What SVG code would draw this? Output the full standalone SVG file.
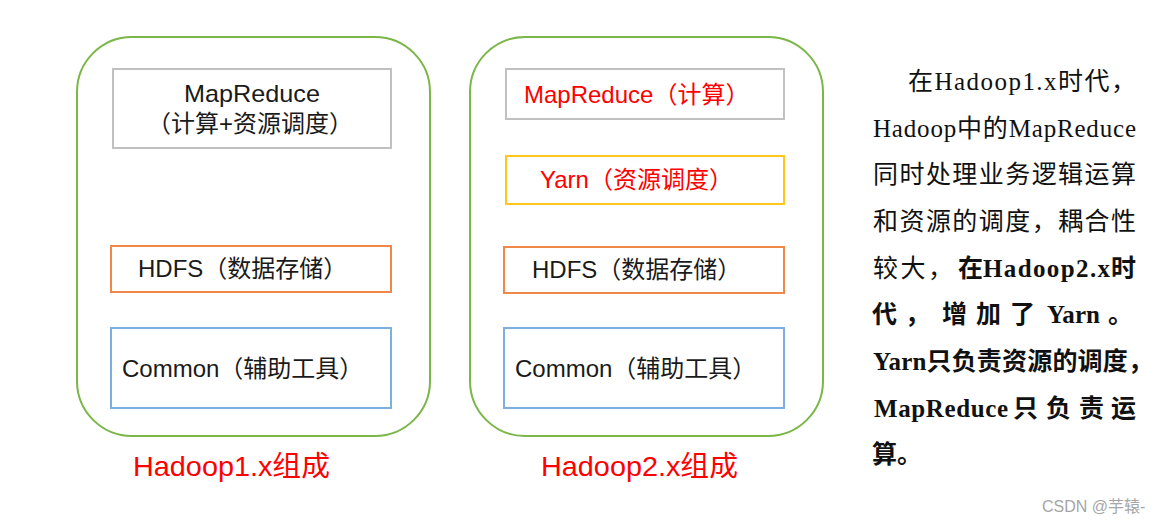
<svg xmlns="http://www.w3.org/2000/svg" width="1171" height="527" viewBox="0 0 1171 527">
<style>
.cont{fill:#fff;stroke:#7ab648;stroke-width:2}
.box{fill:#fff;stroke-width:2}
.gray{stroke:#c0c0c0}
.orange{stroke:#f0884a}
.yellow{stroke:#ffc61a}
.blue{stroke:#7eaee0}
.lbl{font-family:"Liberation Sans","Noto Sans CJK SC",sans-serif;font-size:24px;fill:#1a1a1a}
.red{fill:#ff0000}
.cap{font-family:"Liberation Sans","Noto Sans CJK SC",sans-serif;font-size:28px;fill:#ff0000}
.para{font-family:"Liberation Serif","Noto Sans CJK SC",serif;font-size:25px;fill:#111}
.b{font-weight:bold}
.wm{font-family:"Liberation Sans","Noto Sans CJK SC",sans-serif;font-size:16px;fill:#a6a6a6}
</style>
<rect width="1171" height="527" fill="#fff"/>
<g id="hadoop1">
<rect class="cont" x="77" y="37" width="353" height="399" rx="55"/>
<g id="h1-mapreduce"><rect class="box gray" x="113" y="69" width="278" height="79"/>
<text class="lbl" x="252" y="102" text-anchor="middle" textLength="136" lengthAdjust="spacingAndGlyphs">MapReduce</text>
<text class="lbl" x="250" y="132" text-anchor="middle">（计算+资源调度）</text></g>
<g id="h1-hdfs"><rect class="box orange" x="111" y="246" width="280" height="46"/>
<text class="lbl" x="138" y="277">HDFS（数据存储）</text></g>
<g id="h1-common"><rect class="box blue" x="111" y="328" width="280" height="80"/>
<text class="lbl" x="122" y="377">Common（辅助工具）</text></g>
<text class="cap" x="133" y="476" textLength="197" lengthAdjust="spacingAndGlyphs">Hadoop1.x组成</text>
</g>
<g id="hadoop2">
<rect class="cont" x="470" y="37" width="353" height="399" rx="55"/>
<g id="h2-mapreduce"><rect class="box gray" x="506" y="69" width="278" height="50"/>
<text class="lbl red" x="524" y="103">MapReduce（计算）</text></g>
<g id="h2-yarn"><rect class="box yellow" x="506" y="156" width="278" height="48"/>
<text class="lbl red" x="540" y="188">Yarn（资源调度）</text></g>
<g id="h2-hdfs"><rect class="box orange" x="504" y="247" width="280" height="46"/>
<text class="lbl" x="532" y="278">HDFS（数据存储）</text></g>
<g id="h2-common"><rect class="box blue" x="504" y="328" width="280" height="80"/>
<text class="lbl" x="515" y="377">Common（辅助工具）</text></g>
<text class="cap" x="541" y="476" textLength="197" lengthAdjust="spacingAndGlyphs">Hadoop2.x组成</text>
</g>
<g id="connectors"></g>
<g id="description">
<text class="para" x="908" y="90" textLength="228" lengthAdjust="spacing">在Hadoop1.x时代，</text>
<text class="para" x="873" y="137" textLength="263" lengthAdjust="spacing">Hadoop中的MapReduce</text>
<text class="para" x="873" y="183" textLength="263" lengthAdjust="spacing">同时处理业务逻辑运算</text>
<text class="para" x="873" y="230" textLength="263" lengthAdjust="spacing">和资源的调度，耦合性</text>
<text class="para" x="873" y="277" textLength="80" lengthAdjust="spacing">较大，</text>
<text class="para b" x="958" y="277">在</text>
<text class="para b" x="983" y="277" textLength="127" lengthAdjust="spacing">Hadoop2.x</text>
<text class="para b" x="1111" y="277">时</text>
<text class="para b" x="872" y="323">代</text>
<text class="para b" x="905" y="323">，</text>
<text class="para b" x="942" y="323">增</text>
<text class="para b" x="976" y="323">加</text>
<text class="para b" x="1010" y="323">了</text>
<text class="para b" x="1047" y="323" textLength="53" lengthAdjust="spacing">Yarn</text>
<text class="para b" x="1108" y="323">。</text>
<text class="para b" x="873" y="370" textLength="280" lengthAdjust="spacing">Yarn只负责资源的调度，</text>
<text class="para b" x="874" y="417" textLength="134" lengthAdjust="spacing">MapReduce</text>
<text class="para b" x="1013" y="417">只</text>
<text class="para b" x="1046" y="417">负</text>
<text class="para b" x="1079" y="417">责</text>
<text class="para b" x="1111" y="417">运</text>
<text class="para b" x="872" y="463">算。</text>
</g>
<text class="wm" x="1042" y="512">CSDN @芋辕-</text>
</svg>
